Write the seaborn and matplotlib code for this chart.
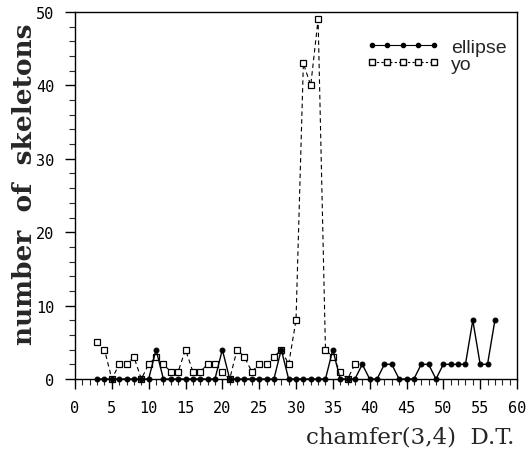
import numpy as np
import pandas as pd
import matplotlib
matplotlib.use("Agg")
import matplotlib.pyplot as plt
import seaborn as sns
from matplotlib.ticker import MultipleLocator
from matplotlib.lines import Line2D

# ---- data ----
ellipse_x = list(range(3, 58))
ellipse_y = [0, 0, 0, 0, 0, 0, 0, 0, 4,            # 3..11
             0, 0, 0, 0, 0, 0, 0, 0, 4,            # 12..20
             0, 0, 0, 0, 0, 0, 0, 4,               # 21..28
             0, 0, 0, 0, 0, 0, 4,                  # 29..35
             0, 0, 0, 2, 0, 0, 2, 2, 0, 0, 0,      # 36..46
             2, 2, 0, 2, 2, 2, 2, 8, 2, 2, 8]      # 47..57
yo_x = list(range(3, 39))
yo_y = [5, 4, 0, 2, 2, 3, 0, 2, 3, 2, 1, 1, 4, 1, 1, 2, 2, 1,   # 3..20
        0, 4, 3, 1, 2, 2, 3, 4, 2, 8, 43, 40, 49, 4, 3, 1, 0, 2]  # 21..38

x_ticks = list(range(0, 61, 5))
y_ticks = list(range(0, 51, 10))
x_label = "chamfer(3,4)  D.T."
y_label = "number  of  skeletons"
legend_labels = ["ellipse", "yo"]

df_e = pd.DataFrame({"x": ellipse_x, "y": ellipse_y})
df_y = pd.DataFrame({"x": yo_x, "y": yo_y})

sns.set_style("ticks")
fig = plt.figure(figsize=(5.26, 4.64), dpi=100)
ax = fig.add_axes([75/526, (464-380)/464, (517-75)/526, (380-13)/464])

sns.lineplot(data=df_y, x="x", y="y", ax=ax, color="black", linestyle=(0, (4, 3)),
             linewidth=0.8, marker="s", markersize=4.5, markerfacecolor="white",
             markeredgecolor="black", markeredgewidth=0.9, clip_on=False, zorder=3)
sns.lineplot(data=df_e, x="x", y="y", ax=ax, color="black", linestyle="-",
             linewidth=1.0, marker="o", markersize=3.5, markerfacecolor="black",
             markeredgecolor="black", clip_on=False, zorder=4)

ax.set_xlim(0, 60)
ax.set_ylim(0, 50)
ax.set_xticks(x_ticks)
ax.set_yticks(y_ticks)
ax.xaxis.set_minor_locator(MultipleLocator(1))
ax.yaxis.set_minor_locator(MultipleLocator(2))
ax.tick_params(which="major", direction="out", length=7, width=1, pad=8,
               labelsize=11, colors="black")
ax.tick_params(which="minor", direction="out", length=4, width=0.8)
for lab in ax.get_xticklabels() + ax.get_yticklabels():
    lab.set_family("DejaVu Sans Mono")
    lab.set_fontweight("light")
for s in ax.spines.values():
    s.set_visible(True)
    s.set_linewidth(1.0)
    s.set_color("black")

ax.set_xlabel("")
ax.set_ylabel("")
fig.text(514/526, 1 - 438/464, x_label, ha="right", va="center",
         family="DejaVu Serif", fontsize=16.5)
fig.text(25/526, 1 - 184/464, y_label, ha="center", va="center", rotation=90,
         family="DejaVu Serif", fontweight="bold", fontsize=19)

handles = [
    Line2D([], [], color="black", linestyle="-", linewidth=0.8, marker="o",
           markersize=3, markerfacecolor="black"),
    Line2D([], [], color="black", linestyle=(0, (2, 2)), linewidth=0.8, marker="s",
           markersize=4, markerfacecolor="white", markeredgecolor="black"),
]
leg = ax.legend(handles, legend_labels, loc="upper right",
                bbox_to_anchor=(507/526, 1 - 39/464), bbox_transform=fig.transFigure,
                numpoints=5, handlelength=3.8, frameon=False, borderpad=0,
                borderaxespad=0,
                prop={"family": "Liberation Sans", "size": 14},
                handletextpad=0.6, labelspacing=0.0)

fig.savefig("out.png", dpi=100)
